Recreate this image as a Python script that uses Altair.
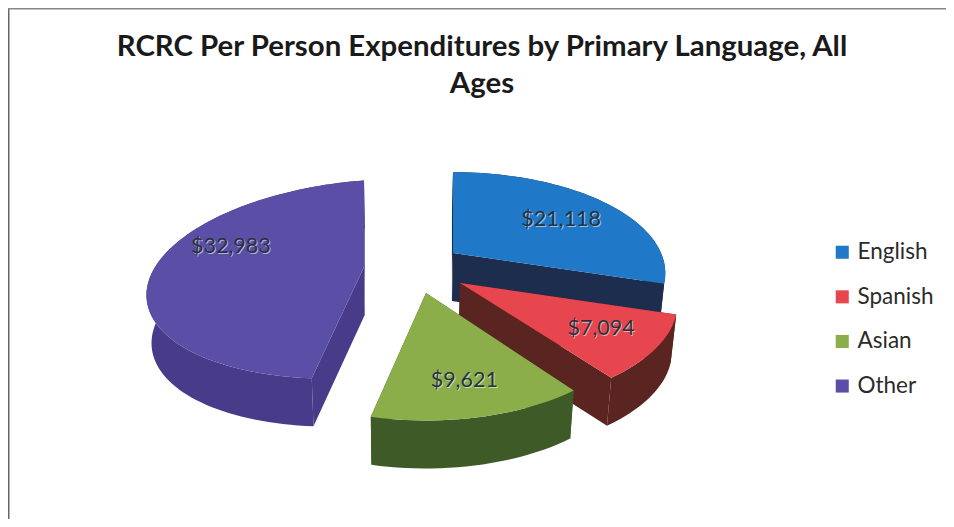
import math
import altair as alt
import pandas as pd

# Chart values
LANGUAGES = ["English", "Spanish", "Asian", "Other"]
VALUES = [21118, 7094, 9621, 32983]
VALUE_LABELS = ["$21,118", "$7,094", "$9,621", "$32,983"]
TITLE_LINES = ["RCRC Per Person Expenditures by Primary Language, All", "Ages"]

# Styles and the tilted-pie layout (page pixels)
TOP_COLOURS = ["#1f78c8", "#e8464e", "#8cae4a", "#5a4ea6"]
WALL_COLOURS = ["#1c2d4e", "#5a2420", "#3e5b27", "#483c8a"]
APEX = {"English": (453, 253), "Spanish": (460, 283), "Asian": (426, 293), "Other": (364, 267)}
RX = {"English": 208, "Spanish": 213, "Asian": 208, "Other": 216}
RY = {"English": 97, "Spanish": 99, "Asian": 102, "Other": 97}
K = {"English": 0.2, "Spanish": 0.2, "Asian": 0.2, "Other": 0.12}
SHEAR = {"English": 0.0, "Spanish": 0.0, "Asian": 0.0, "Other": -0.075}
LABEL_F = {"English": 0.72, "Spanish": 0.8, "Asian": 0.68, "Other": 0.62}
LABEL_NUDGE = {"English": (-3, 5), "Spanish": (-12, -5), "Asian": (4, 10), "Other": (-1, -24)}
DEPTH = 48
PAINT_ORDER = ["Other", "English", "Spanish", "Asian"]


def project(lang, theta, f=1.0):
    u, v = f * math.sin(theta), f * math.cos(theta)
    s = 1 / (1 + K[lang] * v)
    ax, ay = APEX[lang]
    dx = RX[lang] * u * s
    return ax + dx, ay - RY[lang] * v * s + SHEAR[lang] * dx


def drop(p):
    return p[0] + (400 - p[0]) * 0.02, p[1] + DEPTH


total = sum(VALUES)
spans, cum = {}, 0.0
for lang, val in zip(LANGUAGES, VALUES):
    spans[lang] = (cum / total * 2 * math.pi, (cum + val) / total * 2 * math.pi)
    cum += val

rows, domain, colours = [], [], []


def add_face(key, pts, colour):
    domain.append(key)
    colours.append(colour)
    for i, (x, y) in enumerate(pts):
        rows.append({"key": key, "seq": i, "x": x, "y": y})


for lang in PAINT_ORDER:
    idx = LANGUAGES.index(lang)
    a0, a1 = spans[lang]
    n = max(8, int((a1 - a0) * 30))
    arc = [project(lang, a0 + (a1 - a0) * i / n) for i in range(n + 1)]
    apex = APEX[lang]
    wall = WALL_COLOURS[idx]
    add_face(lang + " start wall", [apex, arc[0], drop(arc[0]), drop(apex)], wall)
    add_face(lang + " end wall", [apex, arc[-1], drop(arc[-1]), drop(apex)], wall)
    add_face(lang + " rim", arc + [drop(p) for p in reversed(arc)], wall)
    add_face(lang, [apex] + arc, TOP_COLOURS[idx])

faces = pd.DataFrame(rows)

label_rows = []
for lang, text in zip(LANGUAGES, VALUE_LABELS):
    a0, a1 = spans[lang]
    x, y = project(lang, (a0 + a1) / 2, LABEL_F[lang])
    nx, ny = LABEL_NUDGE[lang]
    label_rows.append({"x": x + nx, "y": y + ny, "label": text})
labels = pd.DataFrame(label_rows)

W, H = 938, 511
x_scale = alt.Scale(domain=[8, 8 + W], nice=False, zero=False)
y_scale = alt.Scale(domain=[8 + H, 8], nice=False, zero=False)
X = alt.X("x:Q", scale=x_scale, axis=None)
Y = alt.Y("y:Q", scale=y_scale, axis=None)

pie = (
    alt.Chart(faces)
    .mark_line(interpolate="linear-closed", strokeWidth=0.5, strokeOpacity=0)
    .encode(
        x=X,
        y=Y,
        order=alt.Order("seq:Q"),
        detail="key:N",
        fill=alt.Fill(
            "key:N",
            sort=None,
            scale=alt.Scale(domain=domain, range=colours),
            legend=alt.Legend(
                values=LANGUAGES,
                title=None,
                orient="none",
                legendX=823,
                legendY=233,
                symbolType="square",
                symbolSize=170,
                symbolStrokeWidth=0,
                labelFont="Lato",
                labelFontSize=22.5,
                labelColor="#2b2b2b",
                labelOffset=4,
                rowPadding=21.6,
            ),
        ),
    )
)

halo = (
    alt.Chart(labels)
    .mark_text(font="Lato", fontSize=21.5, color="#ffffff", opacity=0.55, dx=1, dy=1)
    .encode(x=X, y=Y, text="label:N")
)
text = (
    alt.Chart(labels)
    .mark_text(font="Lato", fontSize=21.5, color="#27323f")
    .encode(x=X, y=Y, text="label:N")
)

frame_left = alt.Chart(pd.DataFrame({"a": [0]})).mark_rule(color="#666666", strokeWidth=1.5).encode(
    x=alt.value(0.75), y=alt.value(0), y2=alt.value(H)
)
frame_top = alt.Chart(pd.DataFrame({"a": [0]})).mark_rule(color="#888888", strokeWidth=1.5).encode(
    y=alt.value(0.75), x=alt.value(0), x2=alt.value(W)
)

chart = (
    alt.layer(frame_left, frame_top, pie, halo, text)
    .properties(
        width=W,
        height=H,
        padding=0,
        autosize=alt.AutoSizeParams(type="none"),
        title=alt.TitleParams(
            text=TITLE_LINES,
            font="Lato",
            fontSize=29.4,
            fontWeight="bold",
            color="#1a1a1a",
            anchor="middle",
            align="center",
            baseline="top",
            lineHeight=37,
            offset=0,
            dx=5,
            dy=92,
        ),
    )
    .configure_view(stroke=None)
    .configure(background="white")
)

chart.save("out.html", embed_options={"renderer": "svg", "actions": False})
